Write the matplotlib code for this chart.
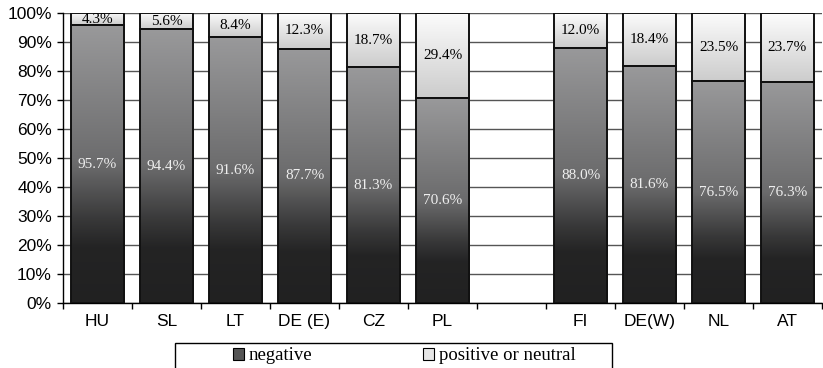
import numpy as np
import matplotlib.pyplot as plt
from matplotlib.patches import Patch, Rectangle

countries = ['HU', 'SL', 'LT', 'DE (E)', 'CZ', 'PL', '', 'FI', 'DE(W)', 'NL', 'AT']
negative = [95.7, 94.4, 91.6, 87.7, 81.3, 70.6, None, 88.0, 81.6, 76.5, 76.3]
positive = [4.3, 5.6, 8.4, 12.3, 18.7, 29.4, None, 12.0, 18.4, 23.5, 23.7]

fig = plt.figure(figsize=(8.23, 3.68), dpi=100)
ax = fig.add_axes([63 / 823, 1 - 303 / 368, 759 / 823, 290 / 368])

x = np.arange(len(countries))
width = 0.77

# vertical gradients, one column of rgb pixels (row 0 = bottom)
f = np.linspace(0, 1, 200)
neg_val = np.interp(f, [0, 0.2, 0.3, 0.5, 1.0], [0.13, 0.14, 0.22, 0.42, 0.60])
neg_img = np.stack([neg_val, neg_val, np.clip(neg_val * 1.01, 0, 1)], axis=-1)[:, None, :]
pos_val = np.interp(f, [0, 1], [0.80, 0.99])
pos_img = np.stack([pos_val, pos_val, pos_val], axis=-1)[:, None, :]

for i, (n, p) in enumerate(zip(negative, positive)):
    if n is None:
        continue
    x0, x1 = x[i] - width / 2, x[i] + width / 2
    ax.imshow(neg_img, extent=[x0, x1, 0, n], origin='lower', aspect='auto',
              zorder=2, interpolation='bilinear')
    ax.imshow(pos_img, extent=[x0, x1, n, n + p], origin='lower', aspect='auto',
              zorder=2, interpolation='bilinear')
    ax.bar(x[i], n, width, color='none', edgecolor='#111111', linewidth=1.4, zorder=3)
    ax.bar(x[i], p, width, bottom=n, color='none', edgecolor='#111111', linewidth=1.4, zorder=3)
    ax.text(x[i], n / 2, f'{n:.1f}%', ha='center', va='center', color='#eeeeee',
            fontsize=11, family='Liberation Serif', zorder=4)
    ax.text(x[i], n + p / 2, f'{p:.1f}%', ha='center', va='center', color='black',
            fontsize=11, family='Liberation Serif', zorder=4)

ax.set_xlim(-0.5, len(countries) - 0.5)
ax.set_ylim(0, 100)
ax.set_yticks(np.arange(0, 101, 10))
ax.set_yticklabels([f'{v}%' for v in range(0, 101, 10)], family='Liberation Sans', fontsize=12.5)
ax.set_xticks(x)
ax.set_xticklabels(countries, family='Liberation Sans', fontsize=12.5)
ax.set_xticks(np.arange(-0.5, len(countries), 1), minor=True)
ax.tick_params(axis='x', which='major', length=0, pad=8)
ax.tick_params(axis='x', which='minor', length=4, width=1)
ax.tick_params(axis='y', length=4, width=1, pad=4)
ax.yaxis.grid(True, color='#555555', linewidth=1)
ax.set_axisbelow(True)
for s in ['top', 'right']:
    ax.spines[s].set_visible(False)
ax.spines['left'].set_linewidth(1)
ax.spines['bottom'].set_linewidth(1)

# legend: frame drawn separately so the entries can sit where they do in the original
fig.patches.append(Rectangle((175 / 823, -0.02), 437 / 823, 0.02 + 25 / 368,
                             transform=fig.transFigure, facecolor='white',
                             edgecolor='black', linewidth=1))
handles = [Patch(facecolor='#555555', edgecolor='black', linewidth=0.8),
           Patch(facecolor='#e6e6e6', edgecolor='black', linewidth=0.8)]
fig.legend(handles, ['negative', 'positive or neutral'], ncol=2,
           loc='center left', bbox_to_anchor=(233 / 823, 1 - 356 / 368),
           frameon=False, prop={'family': 'Liberation Serif', 'size': 13.5},
           handlelength=0.6, handleheight=0.6, handletextpad=0.25,
           borderpad=0, borderaxespad=0, columnspacing=5.9)

fig.savefig('out.png', dpi=100)
